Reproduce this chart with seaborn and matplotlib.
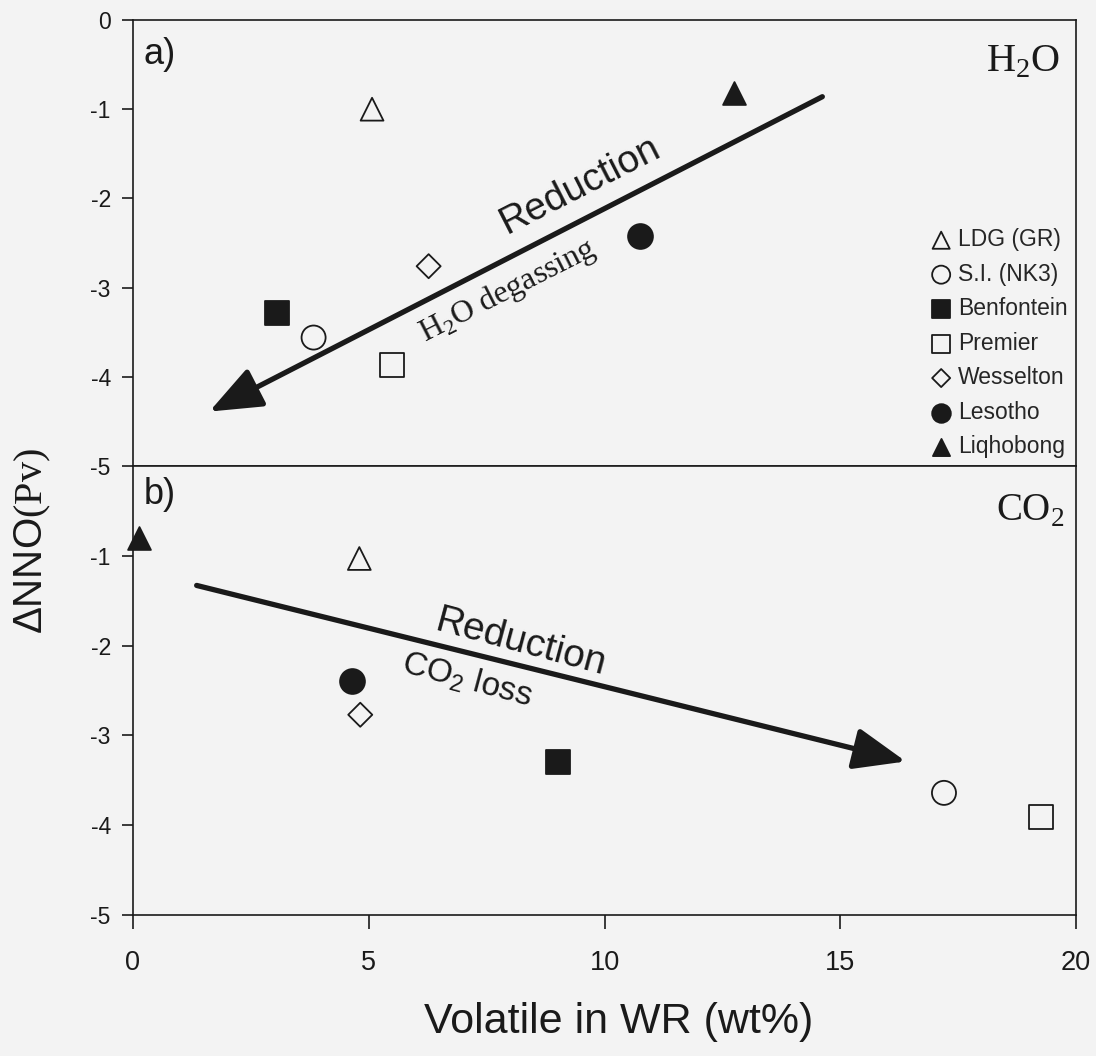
import matplotlib
matplotlib.use("Agg")
import matplotlib.pyplot as plt
import seaborn as sns
import pandas as pd

# ---------------- data ----------------
localities = ["LDG (GR)", "S.I. (NK3)", "Benfontein", "Premier", "Wesselton", "Lesotho", "Liqhobong"]
markers = ["^", "o", "s", "s", "D", "o", "^"]
filled = [False, False, True, False, False, True, True]
sizes = [270, 300, 300, 300, 150, 320, 270]

# panel a: H2O
h2o_x = [5.07, 3.83, 3.05, 5.49, 6.27, 10.76, 12.75]
h2o_y = [-1.00, -3.56, -3.28, -3.87, -2.76, -2.42, -0.82]
# panel b: CO2
co2_x = [4.80, 17.2, 9.01, 19.26, 4.82, 4.64, 0.12]
co2_y = [-1.03, -3.64, -3.30, -3.91, -2.77, -2.39, -0.80]

# trend arrows (tail -> head)
arrow_a_tail = (14.62, -0.86)
arrow_a_head = (1.62, -4.39)
arrow_b_tail = (1.35, -1.33)
arrow_b_head = (16.39, -3.29)

xticks = [0, 5, 10, 15, 20]
yticks_a = [0, -1, -2, -3, -4, -5]
yticks_b = [-1, -2, -3, -4, -5]

df_a = pd.DataFrame({"x": h2o_x, "y": h2o_y, "loc": localities})
df_b = pd.DataFrame({"x": co2_x, "y": co2_y, "loc": localities})

# ---------------- style ----------------
sns.set_theme(style="ticks")
bg = "#f3f3f3"
ink = "#1a1a1a"
plt.rcParams["font.family"] = ["Liberation Sans", "DejaVu Sans"]
plt.rcParams["mathtext.fontset"] = "custom"
plt.rcParams["mathtext.rm"] = "Liberation Serif"
plt.rcParams["mathtext.sf"] = "Liberation Sans"
plt.rcParams["axes.edgecolor"] = ink
plt.rcParams["xtick.color"] = ink
plt.rcParams["ytick.color"] = ink
serif = ["Liberation Serif", "DejaVu Serif"]

fig = plt.figure(figsize=(10.96, 10.56), dpi=100, facecolor=bg)
L, R = 133 / 1096, 1076 / 1096
ax_a = fig.add_axes([L, 1 - 466 / 1056, R - L, 446 / 1056])
ax_b = fig.add_axes([L, 1 - 915 / 1056, R - L, 449 / 1056])

for ax, df in ((ax_a, df_a), (ax_b, df_b)):
    ax.set_facecolor(bg)
    for i, name in enumerate(localities):
        sub = df[df["loc"] == name]
        sns.scatterplot(data=sub, x="x", y="y", ax=ax, marker=markers[i], s=sizes[i],
                        facecolor=ink if filled[i] else "none", edgecolor=ink,
                        linewidth=1.3, label=name, legend=False, clip_on=False, zorder=5)
    ax.set_xlim(0, 20)
    ax.set_ylim(-5, 0)
    ax.set_xlabel("")
    ax.set_ylabel("")
    for s in ax.spines.values():
        s.set_visible(True)
        s.set_linewidth(1.2)
    ax.tick_params(axis="y", direction="out", length=8, width=1.2, labelsize=16.5, pad=8)
    ax.tick_params(axis="x", direction="out", length=10, width=1.2, labelsize=19.5, pad=15)

ax_a.set_yticks(yticks_a)
ax_a.set_yticklabels([str(v) for v in yticks_a])
ax_a.set_xticks([])
ax_b.set_yticks(yticks_b)
ax_b.set_yticklabels([str(v) for v in yticks_b])
ax_b.set_xticks(xticks)
ax_b.set_xticklabels([str(v) for v in xticks])

# arrows
aprops = dict(arrowstyle="-|>,head_length=0.8,head_width=0.32", lw=3.8, color=ink,
              mutation_scale=40, shrinkA=0, shrinkB=0)
ax_a.annotate("", xy=arrow_a_head, xytext=arrow_a_tail, arrowprops=aprops, zorder=4)
ax_b.annotate("", xy=arrow_b_head, xytext=arrow_b_tail, arrowprops=aprops, zorder=4)

# arrow labels
ax_a.text(9.49, -1.85, "Reduction", rotation=27, rotation_mode="anchor", fontsize=28,
          ha="center", va="center", color=ink)
ax_a.text(7.95, -3.03, r"H$_\mathrm{2}$O degassing", rotation=27, rotation_mode="anchor",
          fontsize=23, ha="center", va="center", color=ink, family=serif)
ax_b.text(8.22, -1.97, "Reduction", rotation=-15, rotation_mode="anchor", fontsize=28,
          ha="center", va="center", color=ink)
ax_b.text(7.09, -2.38, r"CO$_\mathsf{2}$ loss", rotation=-15, rotation_mode="anchor", fontsize=24,
          ha="center", va="center", color=ink)

# panel labels
ax_a.text(0.011, 0.962, "a)", transform=ax_a.transAxes, fontsize=26, ha="left", va="top", color=ink)
ax_b.text(0.011, 0.975, "b)", transform=ax_b.transAxes, fontsize=26, ha="left", va="top", color=ink)
ax_a.text(0.983, 0.948, r"H$_\mathrm{2}$O", transform=ax_a.transAxes, fontsize=29, ha="right",
          va="top", color=ink, family=serif)
ax_b.text(0.988, 0.94, r"CO$_\mathrm{2}$", transform=ax_b.transAxes, fontsize=28, ha="right",
          va="top", color=ink, family=serif)

# legend
h, l = ax_a.get_legend_handles_labels()
ax_a.legend(h, l, loc="lower right", frameon=False, fontsize=16.5, markerscale=0.75,
            handletextpad=0.3, handlelength=0.9, labelspacing=0.5, borderaxespad=0.25,
            borderpad=0.1)

# axis labels
fig.text(0.03, 1 - 541 / 1056, "\u0394NNO" + r"$\mathrm{(Pv)}$", rotation=90, fontsize=29,
         ha="center", va="center", color=ink)
fig.text(619 / 1096, 1 - 1022 / 1056, "Volatile in WR (wt%)", fontsize=31, ha="center",
         va="center", color=ink)

fig.savefig("out.png", dpi=100, facecolor=bg)
